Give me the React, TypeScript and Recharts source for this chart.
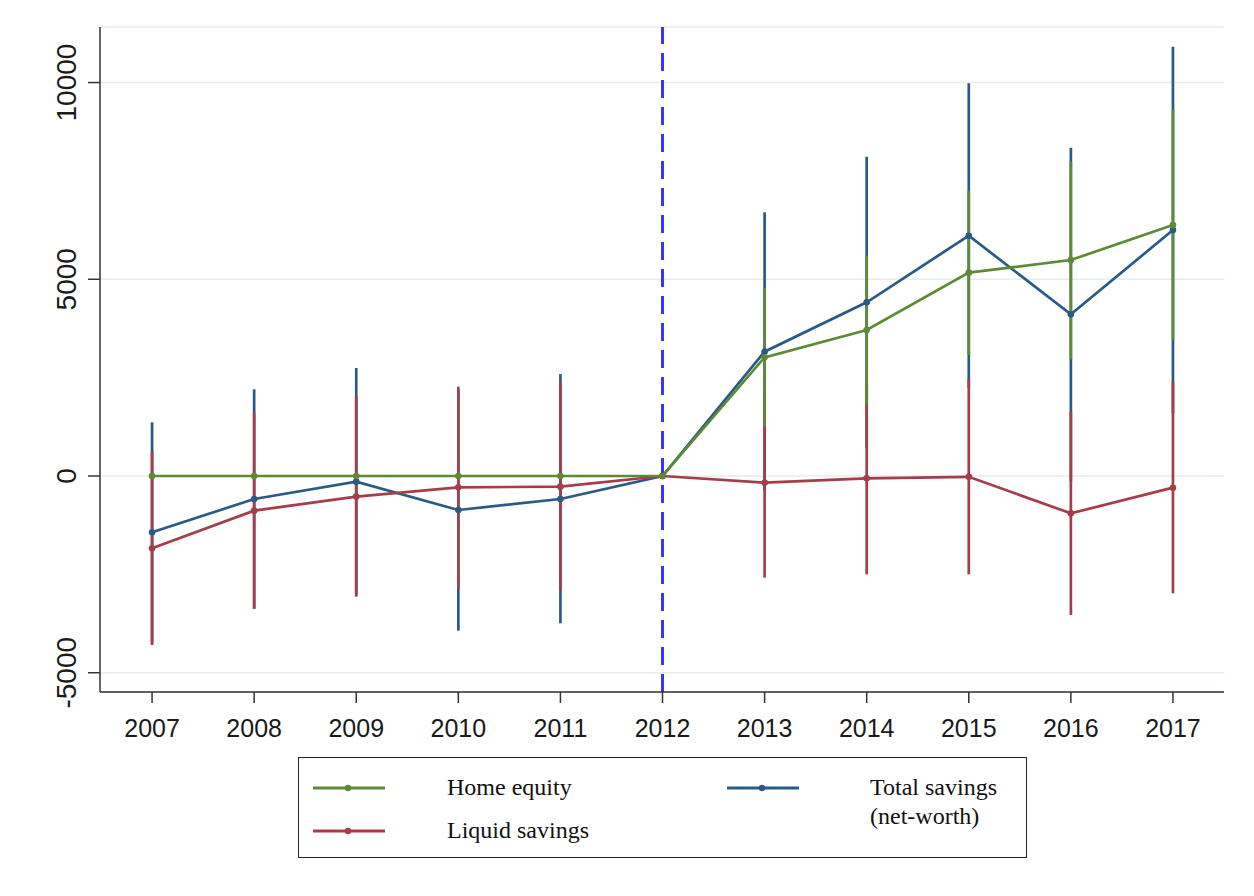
import React from "react";
import {
  CartesianGrid,
  ComposedChart,
  ErrorBar,
  Line,
  ReferenceLine,
  XAxis,
  YAxis,
} from "recharts";

const years = [2007, 2008, 2009, 2010, 2011, 2012, 2013, 2014, 2015, 2016, 2017];

const homeEquity = [0, 0, 0, 0, 0, 0, 3016, 3711, 5168, 5490, 6379];
const homeEquityLo = [0, 0, 0, 0, 0, 0, 1261, 1822, 3075, 2966, 3456];
const homeEquityHi = [0, 0, 0, 0, 0, 0, 4771, 5600, 7252, 7989, 9302];

const liquid = [-1838, -881, -525, -288, -271, 0, -169, -59, -20, -949, -297];
const liquidLo = [-4295, -3372, -3067, -2880, -2910, 0, -2584, -2499, -2500, -3533, -2982];
const liquidHi = [635, 1609, 2033, 2270, 2390, 0, 2246, 2381, 2460, 1635, 2388];

const total = [-1431, -585, -144, -864, -585, 0, 3160, 4415, 6108, 4109, 6252];
const totalLo = [-4227, -3373, -3033, -3931, -3744, 0, -382, 714, 2236, -127, 1593];
const totalHi = [1365, 2203, 2745, 2203, 2592, 0, 6702, 8116, 9980, 8345, 10911];

const yTicks = [-5000, 0, 5000, 10000];

const GREEN = "#5e8a36";
const RED = "#a53e49";
const BLUE = "#2b5a87";

const data = years.map((year, i) => ({
  year,
  home: homeEquity[i],
  homeErr: [homeEquity[i] - homeEquityLo[i], homeEquityHi[i] - homeEquity[i]],
  liquid: liquid[i],
  liquidErr: [liquid[i] - liquidLo[i], liquidHi[i] - liquid[i]],
  total: total[i],
  totalErr: [total[i] - totalLo[i], totalHi[i] - total[i]],
}));

const YTick = (props: any) => {
  const { x, y, payload } = props;
  return (
    <text
      transform={`translate(${x - 10},${y}) rotate(-90)`}
      textAnchor="middle"
      fontSize={28}
      fontFamily="Liberation Sans, Arial, sans-serif"
      fill="#1a1a1a"
    >
      {payload.value}
    </text>
  );
};

const LegendLine = ({ color }: { color: string }) => (
  <svg width={72} height={8} style={{ display: "block" }}>
    <line x1={0} y1={4} x2={72} y2={4} stroke={color} strokeWidth={3} />
    <circle cx={35} cy={4} r={3.2} fill={color} />
  </svg>
);

const serif = "Liberation Serif, Times New Roman, serif";

export default function App() {
  return (
    <div
      style={{
        position: "absolute",
        left: 0,
        top: 0,
        width: 1254,
        height: 896,
        background: "#fff",
      }}
    >
      <ComposedChart
        width={1254}
        height={752}
        data={data}
        margin={{ top: 27, right: 30, bottom: 0, left: 40 }}
      >
        <CartesianGrid vertical={false} stroke="#e4eef0" strokeWidth={1.5} />
        <XAxis
          dataKey="year"
          type="number"
          domain={[2006.49, 2017.5]}
          ticks={years}
          interval={0}
          height={60}
          tickSize={11}
          tickMargin={16}
          stroke="#333"
          strokeWidth={1.5}
          tick={{ fontSize: 25, fill: "#1a1a1a", fontFamily: "Liberation Sans, Arial, sans-serif" }}
          allowDataOverflow
        />
        <YAxis
          type="number"
          domain={[-5490, 11412]}
          ticks={yTicks}
          interval={0}
          width={60}
          tickSize={12}
          stroke="#333"
          strokeWidth={1.5}
          tick={<YTick />}
          allowDataOverflow
        />
        <ReferenceLine
          x={2012}
          stroke="#3535ff"
          strokeWidth={3}
          strokeDasharray="18 9"
        />
        <Line
          dataKey="total"
          type="linear"
          stroke={BLUE}
          strokeWidth={2.7}
          dot={{ r: 3.3, fill: BLUE, stroke: BLUE, strokeWidth: 0 }}
          isAnimationActive={false}
        >
          <ErrorBar
            dataKey="totalErr"
            direction="y"
            width={0}
            stroke={BLUE}
            strokeWidth={2.7}
            isAnimationActive={false}
          />
        </Line>
        <Line
          dataKey="liquid"
          type="linear"
          stroke={RED}
          strokeWidth={2.7}
          dot={{ r: 3.3, fill: RED, stroke: RED, strokeWidth: 0 }}
          isAnimationActive={false}
        >
          <ErrorBar
            dataKey="liquidErr"
            direction="y"
            width={0}
            stroke={RED}
            strokeWidth={2.7}
            isAnimationActive={false}
          />
        </Line>
        <Line
          dataKey="home"
          type="linear"
          stroke={GREEN}
          strokeWidth={2.7}
          dot={{ r: 3.3, fill: GREEN, stroke: GREEN, strokeWidth: 0 }}
          isAnimationActive={false}
        >
          <ErrorBar
            dataKey="homeErr"
            direction="y"
            width={0}
            stroke={GREEN}
            strokeWidth={2.7}
            isAnimationActive={false}
          />
        </Line>
      </ComposedChart>

      <div
        style={{
          position: "absolute",
          left: 298,
          top: 757,
          width: 727,
          height: 99,
          border: "1.5px solid #222",
          fontFamily: serif,
          fontSize: 24,
          color: "#111",
        }}
      >
        <div style={{ position: "absolute", left: 14, top: 26 }}>
          <LegendLine color={GREEN} />
        </div>
        <div style={{ position: "absolute", left: 148, top: 15, lineHeight: "28px" }}>
          Home equity
        </div>
        <div style={{ position: "absolute", left: 14, top: 69 }}>
          <LegendLine color={RED} />
        </div>
        <div style={{ position: "absolute", left: 148, top: 58, lineHeight: "28px" }}>
          Liquid savings
        </div>
        <div style={{ position: "absolute", left: 428, top: 26 }}>
          <LegendLine color={BLUE} />
        </div>
        <div style={{ position: "absolute", left: 571, top: 15, lineHeight: "29px" }}>
          Total savings
          <br />
          (net-worth)
        </div>
      </div>
    </div>
  );
}
